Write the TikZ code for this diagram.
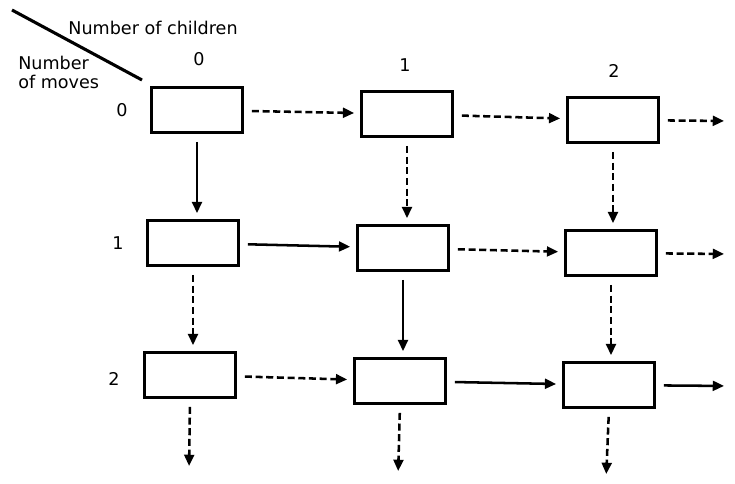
\documentclass[tikz,border=0pt]{standalone}
\usepackage{fontspec}
\setmainfont{DejaVu Sans}
\usetikzlibrary{arrows.meta}

\tikzset{
  cell/.style={draw, line width=1.9pt, minimum width=2.275cm, minimum height=1.125cm, inner sep=0pt},
  link/.style={line width=1.8pt, -{Triangle[length=8pt,width=7pt]}, shorten <=0.2cm, shorten >=0.15cm},
  dlink/.style={link, dash pattern=on 5pt off 2.6pt},
  lbl/.style={font=\fontsize{12.5}{13.5}\selectfont, inner sep=0pt}
}

\begin{document}
\begin{tikzpicture}[x=0.025cm, y=-0.025cm]

\useasboundingbox (0,0) rectangle (735,484);

% En-tete
\draw[line width=2.2pt] (12,10) -- (142,80);

\node[lbl] (children) at (153,28)
{Number of children};

\node[lbl, align=left, anchor=west] (moves) at (18,72)
{Number\\of moves};

\foreach \c/\x/\y in {0/199/59, 1/405/65, 2/614/71}
{
    \node[lbl] (col\c) at (\x,\y) {\c};
}

\foreach \r/\x/\y in {0/122/110, 1/118/243, 2/114/379}
{
    \node[lbl] (row\r) at (\x,\y) {\r};
}

% Cases
\foreach \r/\c/\x/\y in {0/0/197/110, 0/1/407/114, 0/2/613/120,
                         1/0/193/243, 1/1/403/248, 1/2/611/253,
                         2/0/190/375, 2/1/400/381, 2/2/609/385}
{
    \node[cell] (m\r c\c) at (\x,\y) {};
}

% Sorties
\coordinate (right0) at (730,121);
\coordinate (right1) at (730,254);
\coordinate (right2) at (730,386);
\coordinate (down0) at (189,472);
\coordinate (down1) at (398,477);
\coordinate (down2) at (606,480);

% Fleches horizontales
\draw[dlink] (m0c0) -- (m0c1);
\draw[dlink] (m0c1) -- (m0c2);
\draw[dlink] (m0c2) -- (right0);

\draw[link] (m1c0) -- (m1c1);
\draw[dlink] (m1c1) -- (m1c2);
\draw[dlink] (m1c2) -- (right1);

\draw[dlink] (m2c0) -- (m2c1);
\draw[link] (m2c1) -- (m2c2);
\draw[link] (m2c2) -- (right2);

% Fleches verticales
\draw[link] (m0c0.south) -- (m0c0.south |- m1c0.north);
\draw[dlink] (m0c1.south) -- (m0c1.south |- m1c1.north);
\draw[dlink] (m0c2.south) -- (m0c2.south |- m1c2.north);

\draw[dlink] (m1c0.south) -- (m1c0.south |- m2c0.north);
\draw[link] (m1c1.south) -- (m1c1.south |- m2c1.north);
\draw[dlink] (m1c2.south) -- (m1c2.south |- m2c2.north);

\draw[dlink] (m2c0.south) -- (down0);
\draw[dlink] (m2c1.south) -- (down1);
\draw[dlink] (m2c2.south) -- (down2);

\end{tikzpicture}
\end{document}
